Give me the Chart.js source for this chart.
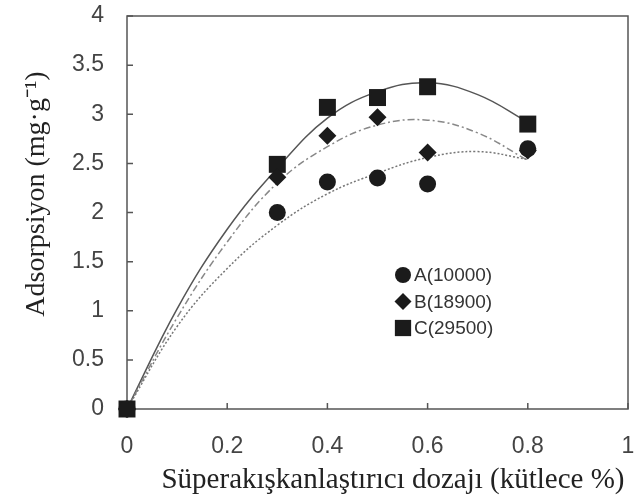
<!DOCTYPE html>
<html>
<head>
<meta charset="utf-8">
<script src="https://cdn.jsdelivr.net/npm/chart.js@4.4.0/dist/chart.umd.min.js"></script>
<style>
  html, body { margin: 0; padding: 0; background: #fff; }
  #wrap { width: 635px; height: 504px; }
</style>
</head>
<body>
<div id="wrap"><canvas id="chart"></canvas></div>
<script>
// Measured points (dose in % by mass, adsorption in mg/g)
const dose = [0, 0.3, 0.4, 0.5, 0.6, 0.8];
const seriesA = [0, 2.00, 2.31, 2.35, 2.29, 2.65];
const seriesB = [0, 2.36, 2.78, 2.97, 2.61, 2.63];
const seriesC = [0, 2.49, 3.07, 3.17, 3.28, 2.90];

// Trend lines
const fitDose = [0, 0.1, 0.2, 0.3, 0.4, 0.5, 0.6, 0.7, 0.8];
const fitA = [0, 0.84, 1.43, 1.87, 2.19, 2.40, 2.56, 2.62, 2.54];
const fitB = [0, 0.93, 1.70, 2.30, 2.67, 2.89, 2.94, 2.81, 2.53];
const fitC = [0, 1.02, 1.83, 2.45, 2.96, 3.23, 3.32, 3.20, 2.92];

const seriesLabels = ['A(10000)', 'B(18900)', 'C(29500)'];
const xTicks = [0, 0.2, 0.4, 0.6, 0.8, 1];
const yTicks = [0, 0.5, 1, 1.5, 2, 2.5, 3, 3.5, 4];

const xTitle = 'Süperakışkanlaştırıcı dozajı (kütlece %)';
const yTitle = 'Adsorpsiyon (mg·g⁻¹)';

const sansFont = "'Liberation Sans', Arial, sans-serif";
const serifFont = "'Liberation Serif', 'Times New Roman', serif";
const markColor = '#1b1b1b';
const axisColor = '#555';

function toXY(xs, ys) {
  return xs.map((x, i) => ({ x: x, y: ys[i] }));
}

// Box around the plot area plus inward tick marks
const framePlugin = {
  id: 'frame',
  beforeDatasetsDraw(chart) {
    const { ctx, chartArea: a, scales } = chart;
    ctx.save();
    ctx.strokeStyle = axisColor;
    ctx.lineWidth = 1.5;
    ctx.strokeRect(a.left, a.top, a.right - a.left, a.bottom - a.top);
    ctx.beginPath();
    scales.y.ticks.forEach(t => {
      const py = scales.y.getPixelForValue(t.value);
      ctx.moveTo(a.left, py);
      ctx.lineTo(a.left + 6, py);
    });
    scales.x.ticks.forEach(t => {
      const px = scales.x.getPixelForValue(t.value);
      ctx.moveTo(px, a.bottom);
      ctx.lineTo(px, a.bottom - 6);
    });
    ctx.stroke();
    ctx.restore();
  }
};

// Axis titles (the figure has them off-centre)
const titlePlugin = {
  id: 'axisTitles',
  afterDraw(chart) {
    const ctx = chart.ctx;
    ctx.save();
    ctx.fillStyle = '#222';
    ctx.textAlign = 'center';
    ctx.textBaseline = 'middle';
    ctx.font = '29px ' + serifFont;
    ctx.fillText(xTitle, 393, 480);
    ctx.font = '28px ' + serifFont;
    ctx.translate(37, 194);
    ctx.rotate(-Math.PI / 2);
    ctx.fillText(yTitle, 0, 0);
    ctx.restore();
  }
};

// Legend inside the plot, lower right
const legendPlugin = {
  id: 'innerLegend',
  afterDraw(chart) {
    const ctx = chart.ctx;
    const sizes = { circle: 8, rectRot: 8.5, rect: 11.5 };
    ctx.save();
    ctx.font = '19px ' + sansFont;
    ctx.textBaseline = 'middle';
    seriesLabels.forEach((label, i) => {
      const ds = chart.data.datasets[i];
      const y = 275 + i * 26.5;
      ctx.fillStyle = markColor;
      Chart.helpers.drawPoint(ctx, {
        pointStyle: ds.pointStyle,
        radius: sizes[ds.pointStyle],
        rotation: 0,
        borderWidth: 0
      }, 403, y);
      ctx.fillStyle = '#333';
      ctx.fillText(label, 414, y + 1);
    });
    ctx.restore();
  }
};

function markSet(label, ys, style, radius) {
  return {
    label: label,
    data: toXY(dose, ys),
    showLine: false,
    pointStyle: style,
    pointRadius: radius,
    pointHoverRadius: radius,
    pointBackgroundColor: markColor,
    pointBorderColor: markColor,
    pointBorderWidth: 0,
    clip: false
  };
}

function fitSet(ys, color, dash, width) {
  return {
    label: 'fit',
    data: toXY(fitDose, ys),
    showLine: true,
    borderColor: color,
    borderWidth: width,
    borderDash: dash,
    pointRadius: 0,
    tension: 0.4,
    fill: false
  };
}

new Chart(document.getElementById('chart'), {
  type: 'scatter',
  data: {
    datasets: [
      markSet(seriesLabels[0], seriesA, 'circle', 8.5),
      markSet(seriesLabels[1], seriesB, 'rectRot', 9),
      markSet(seriesLabels[2], seriesC, 'rect', 12),
      fitSet(fitA, '#777', [2, 2], 1.5),
      fitSet(fitB, '#888', [7, 3, 2, 3], 1.5),
      fitSet(fitC, '#555', [], 1.5)
    ]
  },
  options: {
    responsive: true,
    maintainAspectRatio: false,
    animation: false,
    layout: {
      autoPadding: false,
      padding: { left: 0, right: 7, top: 16, bottom: 0 }
    },
    plugins: {
      legend: { display: false },
      tooltip: { enabled: false }
    },
    scales: {
      x: {
        type: 'linear',
        min: 0,
        max: 1,
        afterBuildTicks: s => { s.ticks = xTicks.map(v => ({ value: v })); },
        afterFit: s => {
          s.height = 95;
          s.paddingLeft = 0;
          s.paddingRight = 0;
        },
        grid: { drawOnChartArea: false, drawTicks: false },
        border: { display: false },
        ticks: {
          padding: 24,
          color: '#444',
          font: { family: sansFont, size: 23 },
          callback: v => String(v)
        }
      },
      y: {
        min: 0,
        max: 4,
        afterBuildTicks: s => { s.ticks = yTicks.map(v => ({ value: v })); },
        afterFit: s => {
          s.width = 127;
          s.paddingTop = 0;
          s.paddingBottom = 0;
        },
        grid: { drawOnChartArea: false, drawTicks: false },
        border: { display: false },
        ticks: {
          padding: 23,
          color: '#444',
          font: { family: sansFont, size: 23 },
          callback: v => String(v)
        }
      }
    }
  },
  plugins: [framePlugin, titlePlugin, legendPlugin]
});
</script>
</body>
</html>
